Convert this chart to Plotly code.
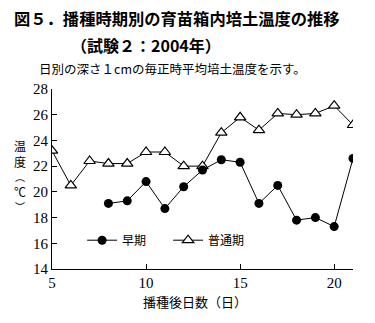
import plotly.graph_objects as go

days_normal = list(range(5, 22))
temp_normal = [23.2, 20.5, 22.4, 22.2, 22.2, 23.1, 23.1, 22.0, 22.0, 24.6, 25.8, 24.8, 26.1, 26.0, 26.1, 26.7, 25.2]
days_early = list(range(8, 22))
temp_early = [19.1, 19.3, 20.8, 18.7, 20.4, 21.7, 22.5, 22.3, 19.1, 20.5, 17.8, 18.0, 17.3, 22.6]
x_ticks = [5, 10, 15, 20]
y_ticks = [14, 16, 18, 20, 22, 24, 26, 28]

serif = "Liberation Serif, DejaVu Serif, serif"
cjk = "Noto Sans CJK JP"

fig = go.Figure()
fig.add_trace(go.Scatter(
    x=days_normal, y=temp_normal, name="普通期", mode="lines+markers",
    line=dict(color="black", width=1),
    marker=dict(symbol="triangle-up", size=10, color="white", line=dict(color="black", width=1.2)),
    legendrank=2,
))
fig.add_trace(go.Scatter(
    x=days_early, y=temp_early, name="早期", mode="lines+markers",
    line=dict(color="black", width=1),
    marker=dict(symbol="circle", size=9, color="black"),
    legendrank=1,
))

W, H = 375, 323
l, r, t, b = 52, 22, 89, 54
pw, ph = W - l - r, H - t - b

def ann(text, px, py, size, xanchor="left", family=cjk):
    return dict(text=text, showarrow=False, xref="paper", yref="paper",
                x=(px - l) / pw, y=(H - b - py) / ph, xanchor=xanchor, yanchor="middle",
                borderpad=0, font=dict(family=family, size=size, color="black"))

annotations = [
    ann("<b>図５．播種時期別の育苗箱内培土温度の推移</b>", 13, 18, 16.3),
    ann("<b>（試験２：2004年）</b>", 70, 45, 16),
    ann("日別の深さ１cmの毎正時平均培土温度を示す。", 38, 68, 12.5),
    ann("播種後日数（日）", 195, 301, 13, "center"),
]
for ch, py, sz in [("温", 145, 12), ("度", 161, 12), ("︵", 176, 10), ("℃", 191, 12), ("︶", 206, 10)]:
    annotations.append(ann(ch, 20, py, sz, "center"))

fig.update_layout(
    width=W, height=H,
    margin=dict(l=l, r=r, t=t, b=b),
    plot_bgcolor="white", paper_bgcolor="white",
    showlegend=True,
    legend=dict(orientation="h", x=0.1, y=0.16, xanchor="left", yanchor="middle",
                bgcolor="rgba(0,0,0,0)", font=dict(family=cjk, size=12, color="black"),
                entrywidth=41, entrywidthmode="pixels", tracegroupgap=0),
    xaxis=dict(range=[5, 21], tickvals=x_ticks, ticks="inside", ticklen=5, tickcolor="black",
               showline=True, linecolor="black", linewidth=1, showgrid=False, zeroline=False,
               tickfont=dict(family=serif, size=15, color="black")),
    yaxis=dict(range=[14, 28], tickvals=y_ticks, ticks="inside", ticklen=5, tickcolor="black",
               showline=True, linecolor="black", linewidth=1, showgrid=False, zeroline=False,
               tickfont=dict(family=serif, size=15, color="black")),
    annotations=annotations,
)

fig.write_html("out.html")
